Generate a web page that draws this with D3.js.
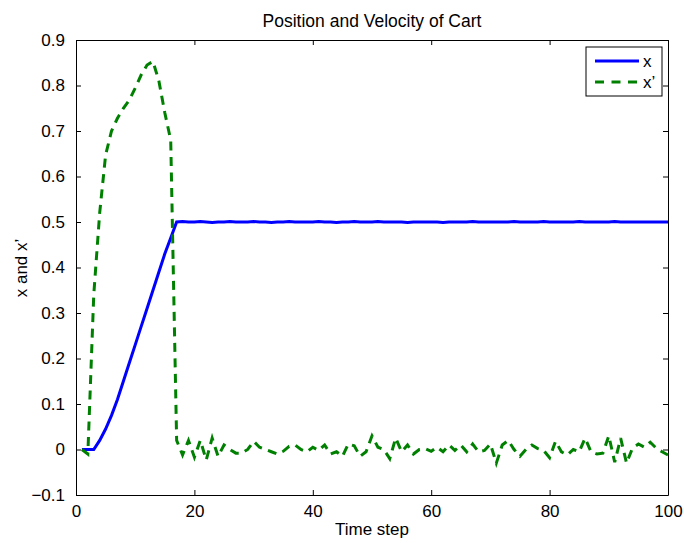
<!DOCTYPE html>
<html>
<head>
<meta charset="utf-8">
<script src="https://cdn.jsdelivr.net/npm/d3@7"></script>
<style>
  body { margin: 0; background: #fff; }
  text { font-family: "Liberation Sans", Arial, sans-serif; }
</style>
</head>
<body>
<div id="chart-area"></div>
<script>
// time steps 1..100
var steps = d3.range(1, 101);

// position of the cart (x)
var position = [
  0, 0, 0, 0.02, 0.045, 0.075, 0.11, 0.15, 0.19, 0.23,
  0.27, 0.31, 0.35, 0.39, 0.43, 0.465, 0.5, 0.501, 0.5, 0.5,
  0.501, 0.5, 0.499, 0.5, 0.5, 0.501, 0.5, 0.5, 0.5, 0.501,
  0.5, 0.5, 0.499, 0.5, 0.5, 0.501, 0.5, 0.5, 0.5, 0.5,
  0.501, 0.5, 0.5, 0.499, 0.5, 0.5, 0.501, 0.5, 0.5, 0.5,
  0.501, 0.5, 0.5, 0.5, 0.5, 0.499, 0.5, 0.5, 0.5, 0.5,
  0.5, 0.499, 0.5, 0.5, 0.5, 0.5, 0.501, 0.5, 0.5, 0.5,
  0.5, 0.5, 0.5, 0.501, 0.5, 0.5, 0.5, 0.5, 0.501, 0.5,
  0.5, 0.5, 0.5, 0.5, 0.501, 0.5, 0.5, 0.5, 0.5, 0.5,
  0.501, 0.5, 0.5, 0.5, 0.5, 0.5, 0.5, 0.5, 0.5, 0.5
];

// velocity of the cart (x')
var velocity = [
  0, -0.01, 0.34, 0.52, 0.647, 0.70, 0.728, 0.75, 0.768, 0.794,
  0.823, 0.845, 0.853, 0.81, 0.74, 0.68, 0.02, -0.012, 0.02, -0.017,
  0.02, -0.023, 0.025, -0.015, 0.01, 0, -0.008, -0.008, 0, 0.018,
  0.005, 0, -0.005, -0.01, -0.004, 0.007, 0.01, 0, -0.005, 0.005,
  -0.002, 0.01, -0.01, -0.005, -0.015, 0.012, 0.008, -0.015, -0.005, 0.03,
  0.005, 0, -0.02, 0.025, -0.005, 0.01, -0.01, 0, 0.002, -0.004,
  0.005, -0.005, 0.01, -0.002, 0.01, -0.005, 0.012, -0.005, -0.002, 0.012,
  -0.03, 0.01, 0.02, 0, -0.015, 0, 0.01, 0.002, -0.002, -0.018,
  0.018, -0.005, -0.012, 0, -0.005, 0.025, -0.005, -0.01, -0.008, 0.03,
  -0.028, 0.025, -0.03, 0.003, 0.012, 0.005, 0.016, 0.003, -0.005, -0.012
];

var xTicks = [0, 20, 40, 60, 80, 100];
var yTicks = [-0.1, 0, 0.1, 0.2, 0.3, 0.4, 0.5, 0.6, 0.7, 0.8, 0.9];
var seriesNames = ["x", "x\u2019"];

var width = 684, height = 543;
var margin = { left: 76, right: 16, top: 40, bottom: 48 };
var plotW = width - margin.left - margin.right;
var plotH = height - margin.top - margin.bottom;

var svg = d3.select("#chart-area")
    .append("svg")
    .attr("width", width)
    .attr("height", height);

var scaleX = d3.scaleLinear().domain([0, 100]).range([margin.left, margin.left + plotW]);
var scaleY = d3.scaleLinear().domain([-0.1, 0.9]).range([margin.top + plotH, margin.top]);

var fmt = function (d) { return d3.format("")(+d.toFixed(1)); };

// axes with inward ticks (box style)
svg.append("g")
    .attr("transform", "translate(0," + (margin.top + plotH) + ")")
    .call(d3.axisBottom(scaleX).tickValues(xTicks).tickSize(-5).tickPadding(10).tickSizeOuter(0))
    .attr("class", "axis");
svg.append("g")
    .attr("transform", "translate(0," + margin.top + ")")
    .call(d3.axisTop(scaleX).tickValues(xTicks).tickSize(-5).tickFormat("").tickSizeOuter(0))
    .attr("class", "axis");
svg.append("g")
    .attr("transform", "translate(" + margin.left + ",0)")
    .call(d3.axisLeft(scaleY).tickValues(yTicks).tickSize(-5).tickPadding(11).tickFormat(fmt).tickSizeOuter(0))
    .attr("class", "axis");
svg.append("g")
    .attr("transform", "translate(" + (margin.left + plotW) + ",0)")
    .call(d3.axisRight(scaleY).tickValues(yTicks).tickSize(-5).tickFormat("").tickSizeOuter(0))
    .attr("class", "axis");

svg.selectAll(".axis path").attr("stroke", "#000");
svg.selectAll(".axis line").attr("stroke", "#000");
svg.selectAll(".axis text")
    .attr("fill", "#000")
    .style("font-size", "17px")
    .style("font-family", "'Liberation Sans', Arial, sans-serif");

// lines
var lineX = d3.line()
    .x(function (d, i) { return scaleX(steps[i]); })
    .y(function (d) { return scaleY(d); });

svg.append("path")
    .datum(position)
    .attr("d", lineX)
    .attr("fill", "none")
    .attr("stroke", "#0000ff")
    .attr("stroke-width", 3);

svg.append("path")
    .datum(velocity)
    .attr("d", lineX)
    .attr("fill", "none")
    .attr("stroke", "#008000")
    .attr("stroke-width", 3)
    .attr("stroke-dasharray", "9,6.5");

// titles
svg.append("text")
    .attr("x", margin.left + plotW / 2)
    .attr("y", 27)
    .attr("text-anchor", "middle")
    .style("font-size", "17.5px")
    .text("Position and Velocity of Cart");

svg.append("text")
    .attr("x", margin.left + plotW / 2)
    .attr("y", 535)
    .attr("text-anchor", "middle")
    .style("font-size", "17px")
    .text("Time step");

svg.append("text")
    .attr("transform", "translate(27," + 268 + ") rotate(-90)")
    .attr("text-anchor", "middle")
    .style("font-size", "17px")
    .text("x and x\u2019");

// legend
var legend = svg.append("g").attr("transform", "translate(586,47)");
legend.append("rect")
    .attr("width", 76).attr("height", 49)
    .attr("fill", "#fff").attr("stroke", "#000");
var legendStyles = [
  { color: "#0000ff", dash: null },
  { color: "#008000", dash: "9,7.5" }
];
legendStyles.forEach(function (s, i) {
  var y = 14 + i * 21;
  legend.append("line")
      .attr("x1", 9).attr("x2", 53).attr("y1", y).attr("y2", y)
      .attr("stroke", s.color).attr("stroke-width", 3)
      .attr("stroke-dasharray", s.dash);
  legend.append("text")
      .attr("x", 57).attr("y", y + 6)
      .style("font-size", "17px")
      .text(seriesNames[i]);
});
</script>
</body>
</html>
